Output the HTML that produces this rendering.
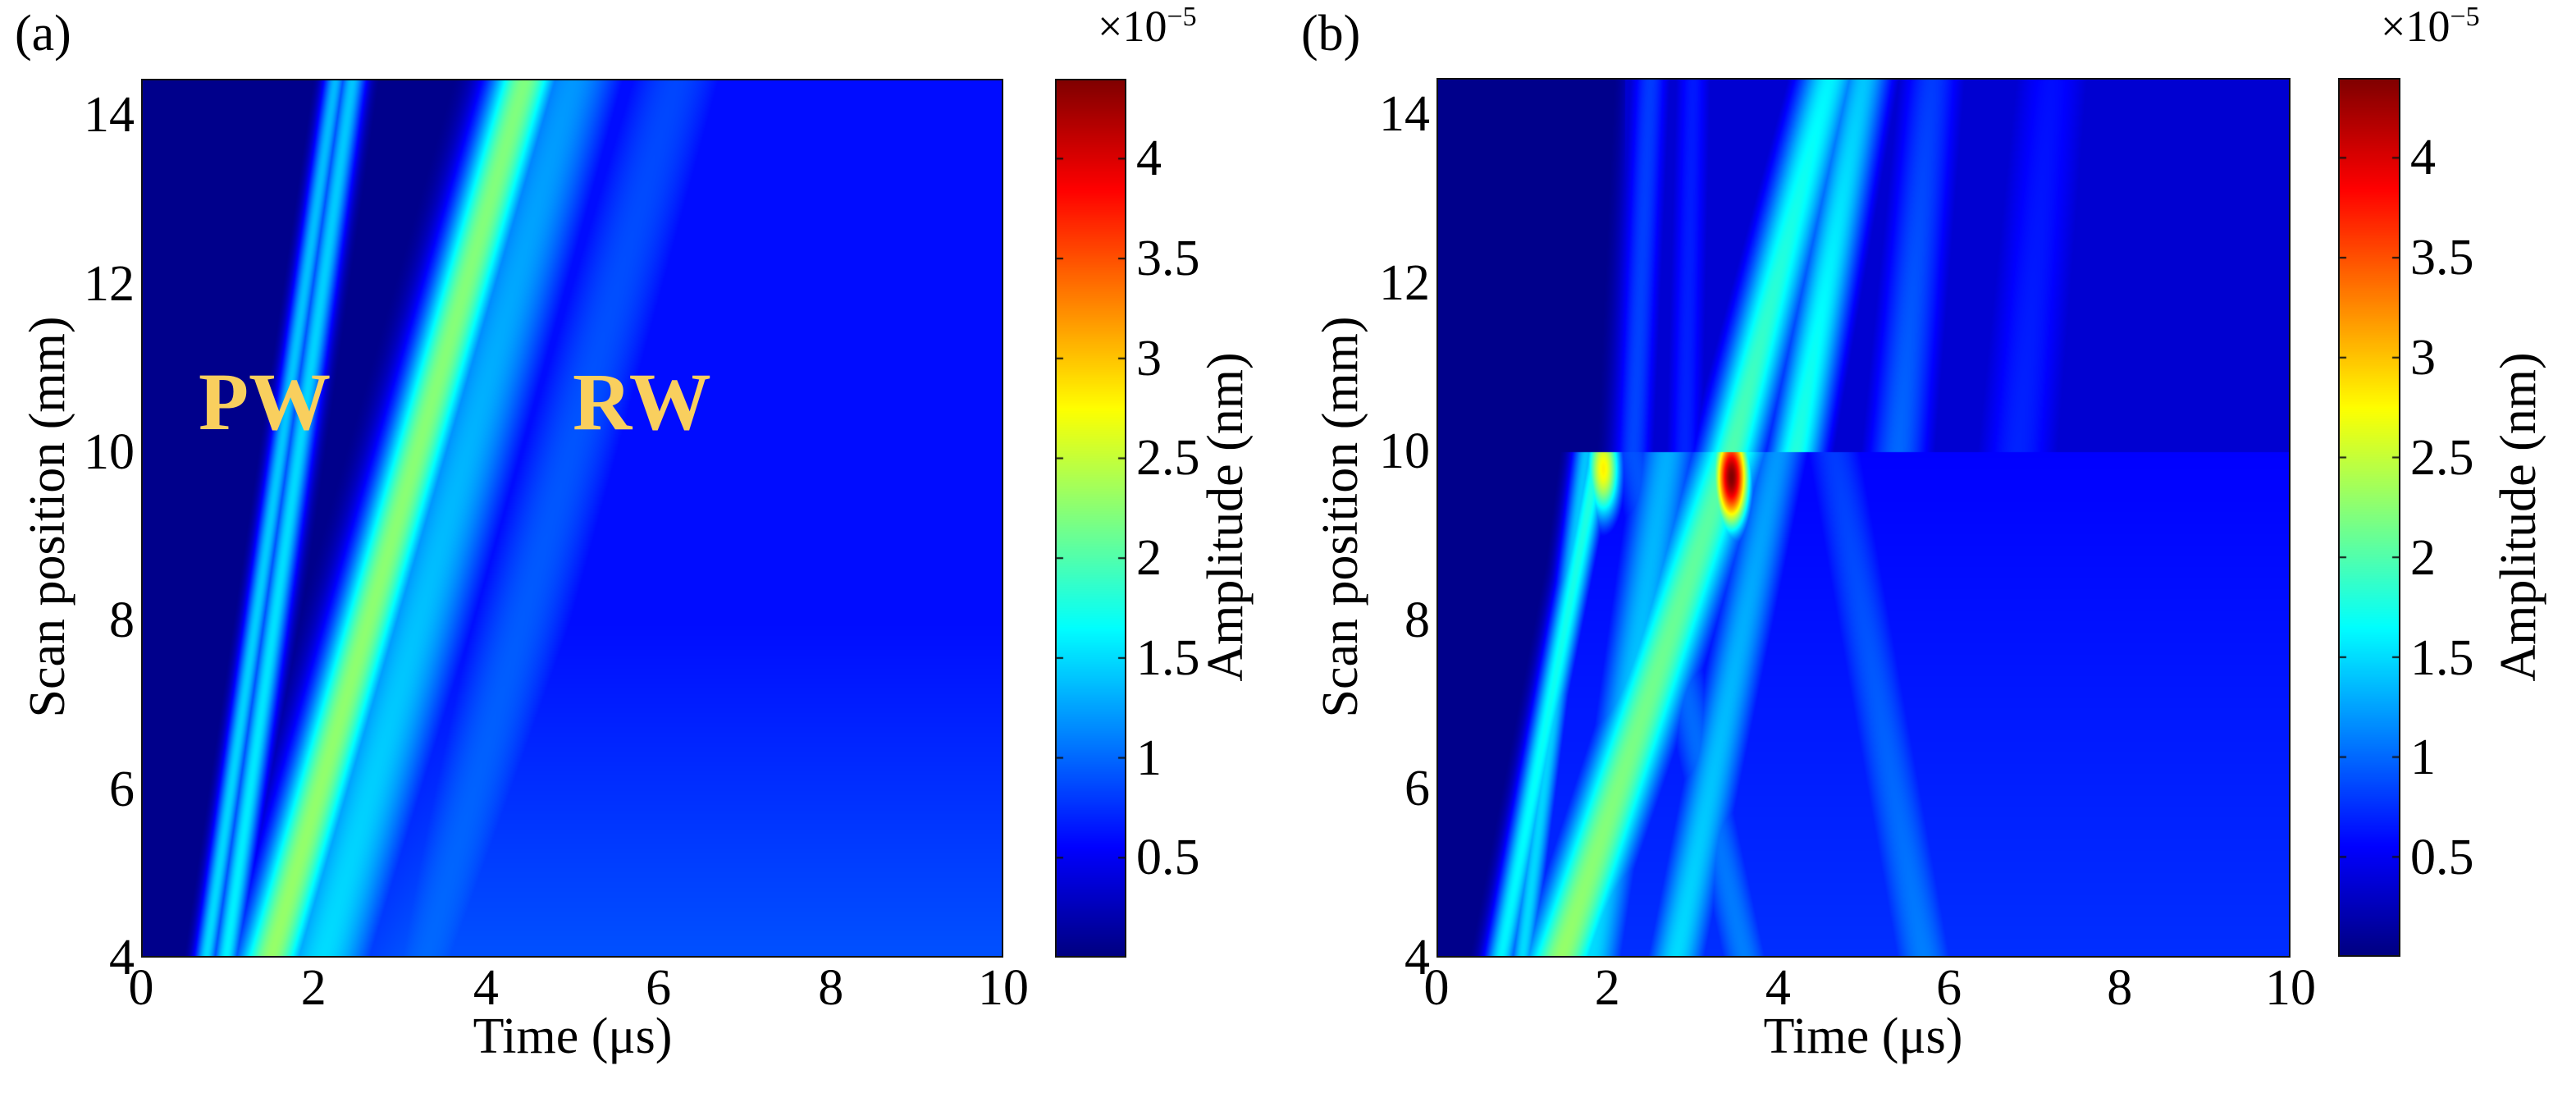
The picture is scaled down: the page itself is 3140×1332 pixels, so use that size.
<!DOCTYPE html>
<html><head><meta charset="utf-8">
<style>
html,body{margin:0;padding:0;background:#fff;}
#root{position:relative;width:3140px;height:1332px;overflow:hidden;background:#fff;font-family:"Liberation Serif",serif;color:#000;}
canvas{position:absolute;display:block;}
.frame{position:absolute;border:2px solid #111;box-sizing:border-box;pointer-events:none;}
.lbl{position:absolute;font-size:62px;line-height:1;white-space:nowrap;}
.ttl{position:absolute;font-size:62px;line-height:1;white-space:nowrap;}
.wave{position:absolute;font-size:100px;font-weight:bold;color:#f9cf5e;line-height:1;}
</style></head>
<body>
<div id="root">
  <div class="ttl" style="left:18px;top:10px;">(a)</div>
  <div class="ttl" style="left:1586px;top:10px;">(b)</div>

  <canvas id="hmA" width="1051" height="1071" style="left:172px;top:96px;"></canvas>
  <div class="frame" style="left:172px;top:96px;width:1051px;height:1071px;"></div>
  <canvas id="cbA" width="87" height="1071" style="left:1286px;top:96px;"></canvas>
  <div class="frame" style="left:1286px;top:96px;width:87px;height:1071px;"></div>

  <canvas id="hmB" width="1041" height="1072" style="left:1751px;top:95px;"></canvas>
  <div class="frame" style="left:1751px;top:95px;width:1041px;height:1072px;"></div>
  <canvas id="cbB" width="76" height="1071" style="left:2850px;top:95px;"></canvas>
  <div class="frame" style="left:2850px;top:95px;width:76px;height:1071px;"></div>

  <div class="wave" style="left:242px;top:440px;">PW</div>
  <div class="wave" style="left:698px;top:440px;">RW</div>

  <div class="ttl" style="left:698px;top:1232px;transform:translateX(-50%);">Time (μs)</div>
  <div class="ttl" style="left:2271px;top:1232px;transform:translateX(-50%);">Time (μs)</div>
  <div class="ttl" style="left:58px;top:630px;transform:translate(-50%,-50%) rotate(-90deg);">Scan position (mm)</div>
  <div class="ttl" style="left:1634px;top:630px;transform:translate(-50%,-50%) rotate(-90deg);">Scan position (mm)</div>
  <div class="ttl" style="left:1494px;top:630px;transform:translate(-50%,-50%) rotate(-90deg);">Amplitude (nm)</div>
  <div class="ttl" style="left:3070px;top:630px;transform:translate(-50%,-50%) rotate(-90deg);">Amplitude (nm)</div>
  <div class="lbl" style="left:1338px;top:4px;font-size:54px;">×10<sup style="font-size:34px;">−5</sup></div>
  <div class="lbl" style="left:2902px;top:4px;font-size:54px;">×10<sup style="font-size:34px;">−5</sup></div>
</div>
<script>
// ---- shared axis data ----
const xTicks = [0, 2, 4, 6, 8, 10];
const yTicks = [4, 6, 8, 10, 12, 14];
const cbTicks = [0.5, 1, 1.5, 2, 2.5, 3, 3.5, 4];
const cbTickLabels = ['0.5', '1', '1.5', '2', '2.5', '3', '3.5', '4'];
const tMin = 0, tMax = 10, yMin = 4, yMax = 14.43, vMax = 4.4;

// ---- panel (a) ridges: time at yLo, time at yHi, amplitude ----
const aT0 = [0.75, 0.98, 1.5, 2.1, 3.3];
const aT1 = [2.25, 2.45, 4.45, 5.0, 6.2];
const aYLo = [4, 4, 4, 4, 4];
const aYHi = [14.43, 14.43, 14.43, 14.43, 14.43];
const aAmpLo = [1.5, 1.6, 2.3, 1.5, 1.0];
const aAmpHi = [1.35, 1.4, 2.2, 1.2, 0.85];
const aWidth = [0.1, 0.12, 0.3, 0.5, 0.6];
const aSpotT = [], aSpotY = [], aSpotAmp = [];

// ---- panel (b) ridges ----
const bT0 = [2.3, 2.9, 3.45, 4.2, 5.4, 6.8, 0.75, 1.0, 1.45, 1.8, 2.8, 3.6, 5.7];
const bT1 = [2.5, 3.0, 4.6, 5.0, 5.8, 7.2, 1.9, 1.75, 3.45, 2.7, 4.0, 2.3, 4.65];
const bYLo = [10, 10, 10, 10, 10, 10, 4, 4, 4, 4, 4, 4, 4];
const bYHi = [14.43, 14.43, 14.43, 14.43, 14.43, 14.43, 10, 10, 10, 10, 10, 10, 10];
const bAmpLo = [0.85, 0.7, 2.0, 1.8, 1.0, 0.7, 1.6, 1.5, 2.3, 1.5, 1.5, 1.1, 1.1];
const bAmpHi = [0.8, 0.65, 1.6, 1.4, 0.8, 0.6, 1.8, 1.4, 2.0, 1.3, 1.2, 0.9, 0.8];
const bWidth = [0.18, 0.18, 0.28, 0.25, 0.3, 0.4, 0.14, 0.12, 0.34, 0.3, 0.28, 0.28, 0.35];
const bSpotT = [3.45, 1.95];
const bSpotY = [9.7, 9.8];
const bSpotAmp = [4.4, 2.8];

function jet(v){
  v = Math.max(0, Math.min(1, v));
  const c = x => Math.max(0, Math.min(1, x));
  return [c(1.5-Math.abs(4*v-3))*255, c(1.5-Math.abs(4*v-2))*255, c(1.5-Math.abs(4*v-1))*255];
}
function ridgeMax(t, y, D){
  let s = 0;
  for (let i = 0; i < D.T0.length; i++){
    if (y < D.YL[i] || y > D.YH[i]) continue;
    const f = (y - D.YL[i]) / (D.YH[i] - D.YL[i]);
    const c = D.T0[i] + (D.T1[i]-D.T0[i]) * f;
    const a = D.AL[i] + (D.AH[i]-D.AL[i]) * f;
    const d = (t - c) / D.W[i];
    s = Math.max(s, a * Math.exp(-0.5*d*d));
  }
  for (let j = 0; j < D.ST.length; j++){
    if (y > 10) continue;
    const dx = (t - D.ST[j]) / 0.15, dy = (y - D.SY[j]) / 0.45;
    s = Math.max(s, D.SA[j] * Math.exp(-0.5*(dx*dx+dy*dy)));
  }
  return s;
}
function bgA(t, y){
  const main = aT0[2] + (aT1[2]-aT0[2]) * (y-4)/10.43;
  if (t < main) return 0.05;
  return 0.6 + 0.3*Math.max(0, (8-y)/4) * Math.min(1, (t-main)/1.5);
}
function bgB(t, y){
  if (y >= 10) return t < 2.2 ? 0.05 : 0.35;
  const front = 0.65 + (y-4)*0.17;
  if (t < front) return 0.05;
  return 0.55 + 0.2*(10-y)/6;
}
function drawHeat(id, D, bg){
  const cv = document.getElementById(id), ctx = cv.getContext('2d');
  const w = cv.width, h = cv.height, img = ctx.createImageData(w, h);
  for (let py = 0; py < h; py++){
    const y = yMax - (py/h)*(yMax-yMin);
    for (let px = 0; px < w; px++){
      const t = tMin + (px/w)*(tMax-tMin);
      const v = Math.max(bg(t, y), ridgeMax(t, y, D));
      const col = jet(v / vMax), k = (py*w+px)*4;
      img.data[k]=col[0]; img.data[k+1]=col[1]; img.data[k+2]=col[2]; img.data[k+3]=255;
    }
  }
  ctx.putImageData(img, 0, 0);
}
function drawBar(id){
  const cv = document.getElementById(id), ctx = cv.getContext('2d');
  for (let py = 0; py < cv.height; py++){
    const c = jet(1 - py/cv.height);
    ctx.fillStyle = `rgb(${c[0]|0},${c[1]|0},${c[2]|0})`;
    ctx.fillRect(0, py, cv.width, 1);
  }
  ctx.fillStyle = '#111';
  cbTicks.forEach(v => {
    const py = cv.height - v/vMax*cv.height;
    ctx.fillRect(0, py-1, 10, 2);
    ctx.fillRect(cv.width-10, py-1, 10, 2);
  });
}
drawHeat('hmA', {T0:aT0,T1:aT1,YL:aYLo,YH:aYHi,AL:aAmpLo,AH:aAmpHi,W:aWidth,ST:aSpotT,SY:aSpotY,SA:aSpotAmp}, bgA);
drawHeat('hmB', {T0:bT0,T1:bT1,YL:bYLo,YH:bYHi,AL:bAmpLo,AH:bAmpHi,W:bWidth,ST:bSpotT,SY:bSpotY,SA:bSpotAmp}, bgB);
drawBar('cbA'); drawBar('cbB');

const root = document.getElementById('root');
function addLabel(txt, left, top, tx, name){
  const el = document.createElement('div');
  el.className = 'lbl';
  el.textContent = txt;
  el.style.left = left + 'px'; el.style.top = top + 'px';
  el.style.transform = tx;
  
  
  root.appendChild(el);
}
const panels = [
  {x0:172, w:1051, y0:96, h:1071, cbx:1286, cbw:87, p:'a'},
  {x0:1751, w:1041, y0:95, h:1072, cbx:2850, cbw:76, p:'b'}
];
panels.forEach(P => {
  xTicks.forEach(v => {
    const x = P.x0 + (v-tMin)/(tMax-tMin)*P.w;
    addLabel(String(v), x, P.y0+P.h+6, 'translateX(-50%)', 'x-tick-' + P.p + '-' + v);
  });
  yTicks.forEach(v => {
    const y = P.y0 + P.h - (v-yMin)/(yMax-yMin)*P.h;
    addLabel(String(v), P.x0-8, y, 'translate(-100%,-50%)', 'y-tick-' + P.p + '-' + v);
  });
  cbTicks.forEach((v, i) => {
    const y = P.y0 + P.h - v/vMax*P.h;
    addLabel(cbTickLabels[i], P.cbx+P.cbw+12, y, 'translateY(-50%)', 'colorbar-tick-' + P.p + '-' + i);
  });
});
</script>
</body></html>
